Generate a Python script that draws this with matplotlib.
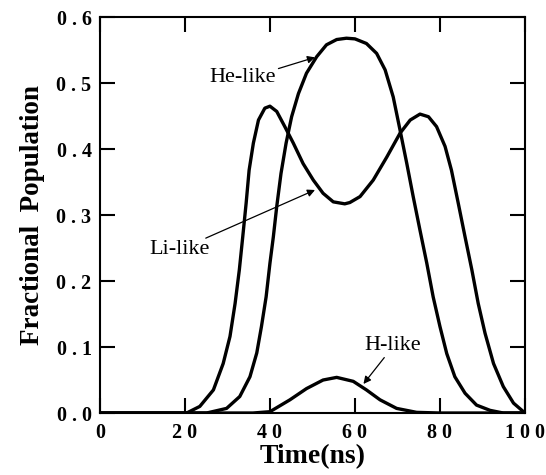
import matplotlib
matplotlib.use("Agg")
from matplotlib import pyplot as plt

# time (ns) and fractional population read for each ion stage
li_t = [0, 10, 18, 20.4, 23.5, 26.7, 29.0, 30.6, 31.8, 32.8, 33.6, 34.4, 35.1, 36.1, 37.3, 38.8,
        40.0, 41.6, 43.5, 45.5, 47.8, 50.2, 52.5, 54.9, 57.6, 58.8, 61.2, 64.3, 67.5, 70.6, 73.0,
        75.3, 77.3, 79.2, 81.2, 82.7, 84.3, 85.9, 87.5, 89.0, 90.6, 92.6, 94.9, 97.3, 100]
li_v = [0, 0, 0, 0.0, 0.010, 0.035, 0.075, 0.116, 0.166, 0.217, 0.267, 0.318, 0.368, 0.409,
        0.444, 0.462, 0.465, 0.457, 0.434, 0.409, 0.378, 0.353, 0.333, 0.320, 0.317, 0.319, 0.328,
        0.353, 0.388, 0.424, 0.444, 0.453, 0.449, 0.434, 0.404, 0.368, 0.318, 0.267, 0.217, 0.166,
        0.121, 0.075, 0.040, 0.015, 0.0]

he_t = [0, 20, 25.1, 29.8, 32.9, 35.3, 36.9, 38.0, 39.1, 40.0, 40.8, 41.6, 42.6, 43.8, 45.1,
        46.7, 48.6, 51.0, 53.3, 55.7, 58.0, 60.0, 62.7, 65.1, 67.1, 69.0, 70.6, 72.2, 73.7, 75.3,
        76.9, 78.4, 80.0, 81.6, 83.5, 85.9, 88.6, 91.8, 94.9, 100]
he_v = [0, 0, 0.0, 0.007, 0.025, 0.055, 0.091, 0.131, 0.176, 0.227, 0.267, 0.313, 0.363, 0.409,
        0.449, 0.484, 0.515, 0.540, 0.558, 0.566, 0.568, 0.567, 0.560, 0.545, 0.520, 0.479, 0.429,
        0.378, 0.328, 0.277, 0.227, 0.176, 0.131, 0.090, 0.055, 0.030, 0.012, 0.004, 0.0, 0]

h_t = [0, 30, 36, 40.0, 44.7, 48.6, 52.5, 55.7, 59.6, 62.7, 65.9, 69.8, 74.5, 80, 100]
h_v = [0, 0, 0.0, 0.002, 0.020, 0.037, 0.050, 0.054, 0.048, 0.035, 0.020, 0.007, 0.001, 0, 0]

x_ticks = [0, 20, 40, 60, 80, 100]
y_ticks = [0.0, 0.1, 0.2, 0.3, 0.4, 0.5, 0.6]

serif = ['Liberation Serif', 'DejaVu Serif']

fig = plt.figure(figsize=(5.46, 4.75), dpi=100)
ax = fig.add_axes([0.183, 0.1305, 0.7785, 0.8335])

for t, v in [(li_t, li_v), (he_t, he_v), (h_t, h_v)]:
    ax.plot(t, v, color='k', lw=2.4, solid_joinstyle='round', solid_capstyle='round')

ax.set_xlim(0, 100)
ax.set_ylim(0, 0.6)

def spaced(s):
    return ' '.join(s)

ax.set_xticks(x_ticks)
ax.set_xticklabels([spaced(str(t)) for t in x_ticks], family=serif, fontweight='bold', fontsize=14.5)
ax.set_yticks(y_ticks)
ax.set_yticklabels([spaced('%.1f' % v) for v in y_ticks], family=serif, fontweight='bold', fontsize=14.5)
ax.tick_params(direction='in', length=11, width=1.5, top=True, right=True)
ax.tick_params(axis='x', pad=7)
ax.tick_params(axis='y', pad=6)
for s in ax.spines.values():
    s.set_linewidth(1.5)

ax.set_xlabel('Time(ns)', family=serif, fontweight='bold', fontsize=20, labelpad=1)
ax.set_ylabel('Fractional  Population', family=serif, fontweight='bold', fontsize=19.5, labelpad=8)

arrow = dict(arrowstyle='-|>', lw=0.9, color='k', mutation_scale=11, shrinkA=0, shrinkB=0)
ax.text(33.5, 0.509, 'He-like', ha='center', va='center', family=serif, fontsize=16)
ax.annotate('', xy=(50.6, 0.539), xytext=(42, 0.522), arrowprops=arrow)
ax.text(18.8, 0.248, 'Li-like', ha='center', va='center', family=serif, fontsize=16)
ax.annotate('', xy=(50.6, 0.338), xytext=(24.9, 0.265), arrowprops=arrow)
ax.text(68.8, 0.102, 'H-like', ha='center', va='center', family=serif, fontsize=16)
ax.annotate('', xy=(62, 0.044), xytext=(66.9, 0.084), arrowprops=arrow)

fig.savefig('out.png', dpi=100)
